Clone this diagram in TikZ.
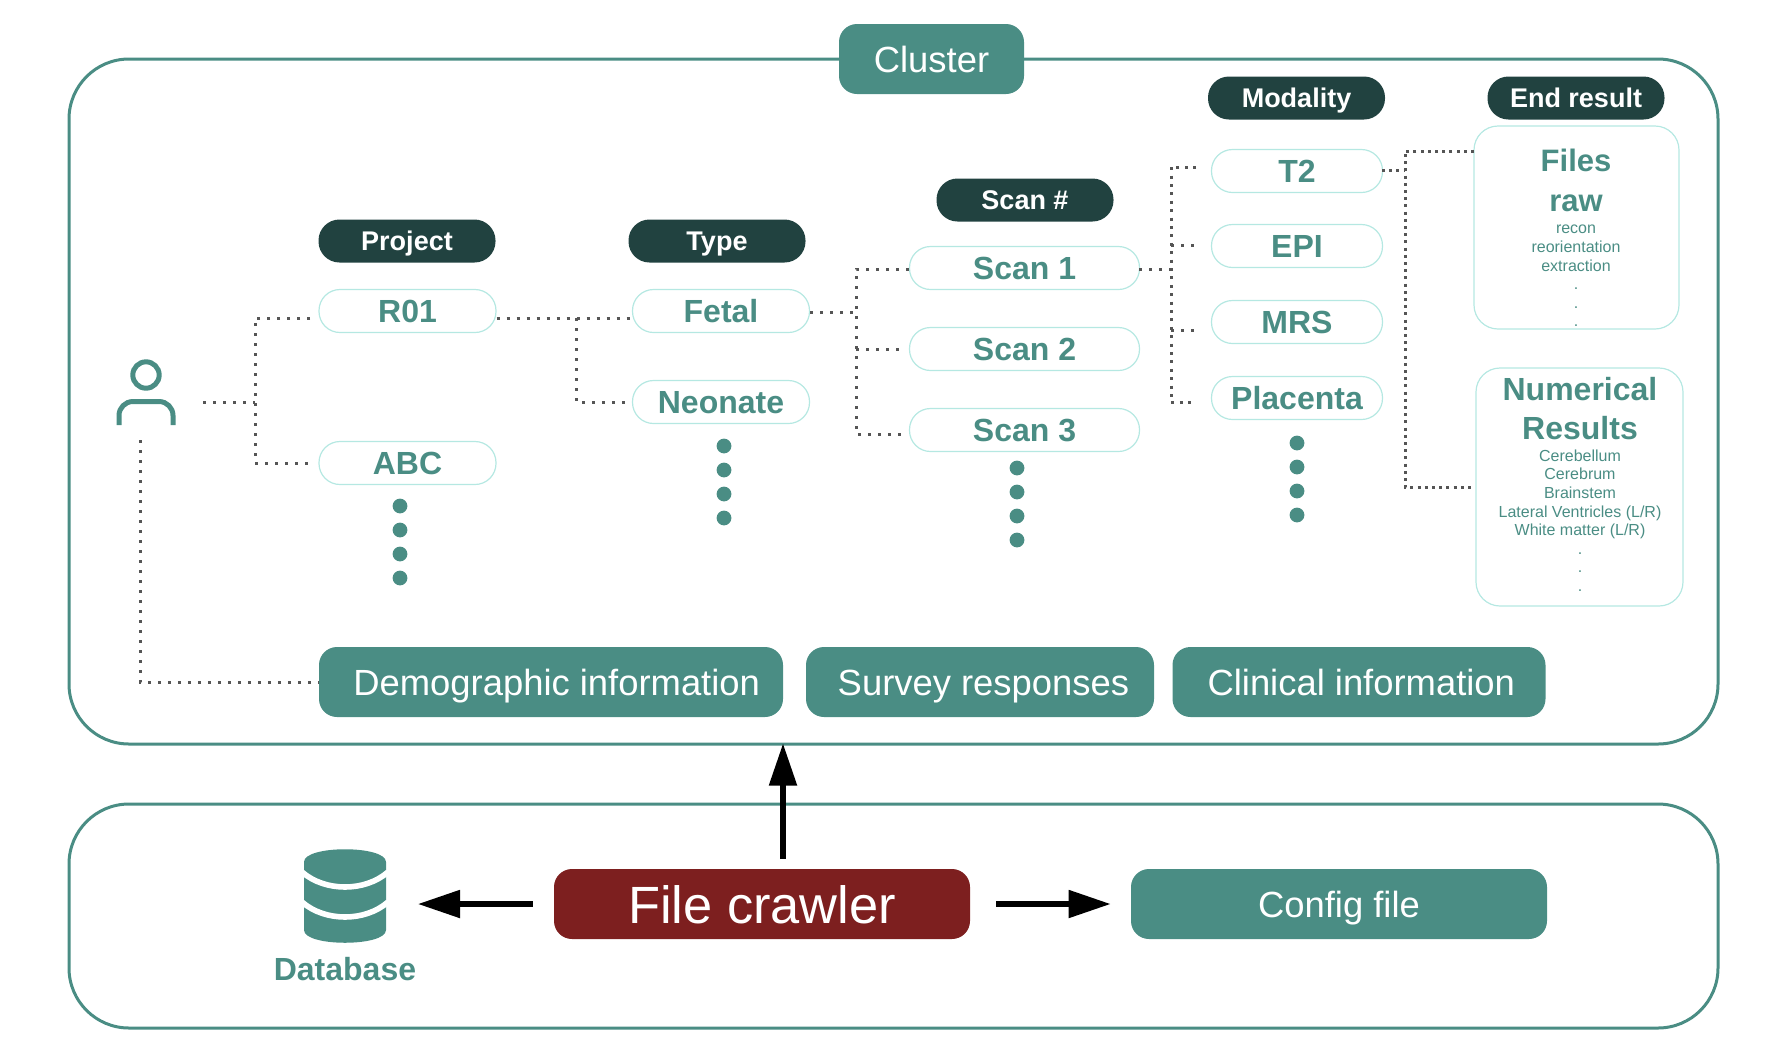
\documentclass[tikz,border=0pt]{standalone}
\usepackage{fontspec}
\setmainfont{Liberation Sans}
\usepackage{xcolor}
\usetikzlibrary{arrows.meta,calc,positioning}
\definecolor{DeepTeal}{HTML}{214240}
\definecolor{SoftTeal}{HTML}{4A8D84}
\definecolor{PaleTeal}{HTML}{B5E8E2}
\definecolor{Crawler}{HTML}{7D1F1F}
\definecolor{LinkGray}{HTML}{555555}
\tikzset{
  frame/.style={draw=SoftTeal,line width=1.5pt,rounded corners=30pt},
  tagpill/.style={fill=DeepTeal,text=white,rounded corners=10.5pt,minimum width=88.5pt,minimum height=21.5pt,inner sep=0pt,text height=9.7pt,text depth=0pt,font=\fontsize{13.5}{16}\selectfont\bfseries},
  itempill/.style={draw=PaleTeal,line width=0.6pt,fill=white,text=SoftTeal,rounded corners=10.5pt,minimum height=21.5pt,inner sep=0pt,text height=11.2pt,text depth=0pt,font=\fontsize{16}{18}\selectfont\bfseries},
  infobar/.style={fill=SoftTeal,text=white,rounded corners=9pt,minimum height=35pt,inner sep=0pt,text height=13.7pt,text depth=0pt,font=\fontsize{18.2}{21}\selectfont},
  resultbox/.style={draw=PaleTeal,line width=0.6pt,rounded corners=12pt,inner sep=0pt},
  headtext/.style={text=SoftTeal,align=center,font=\fontsize{16}{17.3}\selectfont\bfseries},
  notetext/.style={text=SoftTeal,align=center,font=\fontsize{8}{9.3}\selectfont},
  dotlink/.style={LinkGray,line width=1.5pt,dash pattern=on 1.5pt off 3.5pt},
  dotmid/.style={dotlink,dash pattern=on 1.5pt off 2.7pt},
  dotdense/.style={dotlink,dash pattern=on 1.5pt off 2.1pt},
  flowarrow/.style={-{Triangle[length=21pt,width=13.5pt]},line width=2.6pt,black},
}
\begin{document}
\begin{tikzpicture}[x=0.5pt,y=-0.5pt,>=Latex]
  \useasboundingbox (0,0) rectangle (1790,1046);
  \node[frame,minimum width=824.5pt,minimum height=342.5pt] (clusterframe) at (893.5,401.5) {};
  \node[frame,minimum width=824.5pt,minimum height=112pt] (crawlerframe) at (893.5,916) {};
  \node[infobar,minimum width=92.5pt] (cluster) at (931.5,59) {Cluster};
  \foreach \nm/\cx/\cy/\txt in {project/407/241/Project,type/717/241/Type,scannum/1025/200/Scan \#,modality/1296.5/98/Modality,endresult/1576/98/End result}{
    \node[tagpill] (\nm) at (\cx,\cy) {\txt};
  }
  \foreach \nm/\cx/\cy/\wid/\txt in {r01/407.5/311/88.5/R01,abc/407.5/463/88.5/ABC,fetal/721/311/88.5/Fetal,neonate/721/402/88.5/Neonate,scana/1024.5/268/115/Scan 1,scanb/1024.5/349/115/Scan 2,scanc/1024.5/430/115/Scan 3,tii/1297/171/85.5/T2,epi/1297/246/85.5/EPI,mrs/1297/322/85.5/MRS,placenta/1297/398/85.5/Placenta}{
    \node[itempill,minimum width=\wid pt] (\nm) at (\cx,\cy) {\txt};
  }
  \foreach \cx/\cy in {400/506,724/446,1017/468,1297/443}{
    \foreach \k in {0,...,3}{\fill[SoftTeal] (\cx,\cy+\k*24) circle (3.7pt);}
  }
  \node[resultbox,minimum width=102.5pt,minimum height=101.5pt] (filesbox) at (1576.5,227.5) {};
  \node[resultbox,minimum width=103.5pt,minimum height=119pt] (numbox) at (1579.5,487) {};
  \node[headtext,font=\fontsize{15.5}{20}\selectfont\bfseries] (filestitle) at (1576,180) {Files\\raw};
  \node[notetext] (filesnotes) at (1576,276) {recon\\reorientation\\extraction\\.\\.\\.};
  \node[headtext,font=\fontsize{16}{19.5}\selectfont\bfseries] (numtitle) at (1580,408.5) {Numerical\\Results};
  \node[notetext] (numnotes) at (1580,520.5) {Cerebellum\\Cerebrum\\Brainstem\\Lateral Ventricles (L/R)\\White matter (L/R)\\.\\.\\.};
  \node[infobar,minimum width=232pt] (demog) at (551,682) {\hspace*{5.7pt}Demographic information};
  \node[infobar,minimum width=174pt] (survey) at (980,682) {\hspace*{3.4pt}Survey responses};
  \node[infobar,minimum width=186.5pt] (clinical) at (1359,682) {\hspace*{2.3pt}Clinical information};
  \node[infobar,fill=Crawler,minimum width=208pt,text height=19.1pt,font=\fontsize{26.2}{30}\selectfont] (crawler) at (762,904) {File crawler};
  \node[infobar,minimum width=208pt] (config) at (1339,904) {Config file};
  \draw[SoftTeal,line width=2.5pt] (146,375) circle (6.6pt);
  \draw[SoftTeal,line width=2.5pt,rounded corners=7pt] (119,425)--(119,401.5)--(173,401.5)--(173,425);
  \fill[SoftTeal] (304,862) .. controls (304,845) and (386,845) .. (386,862)--(386,930) .. controls (386,947) and (304,947) .. (304,930)--cycle;
  \foreach \cy in {872,902}{
    \draw[white,line width=2.8pt] (302,\cy) .. controls (325,\cy+20) and (365,\cy+20) .. (388,\cy);
  }
  \node[headtext] (dblabel) at (345,969) {Database};
  \foreach \nm/\cx/\cy in {userout/203/402,userjoin/255/402,roa/310/318,abcgap/310/463,typejoin/576/318,fetalgap/631/318,neogap/629/402,typeout/810/312,scanjoin/856/312,sagap/909/269,sbgap/905/349,scgap/905/434,scanout/1139/269,modjoin/1171/269,tiigap/1196/167,epigap/1196/245,mrsgap/1196/330,placgap/1196/402,tiiout/1382/170,endjoin/1405/170,filesgap/1474/151,numgap/1474/487,usertop/140/440}{
    \coordinate (\nm) at (\cx,\cy);
  }
  \draw[dotlink] (userout)--(userjoin);
  \draw[dotlink] (roa)--(roa -| userjoin)--(abcgap -| userjoin)--(abcgap);
  \draw[dotlink] (r01.east |- roa)--(fetalgap);
  \draw[dotlink] (typejoin)--(neogap -| typejoin)--(neogap);
  \draw[dotlink] (typeout)--(scanjoin);
  \draw[dotlink] (sagap)--(sagap -| scanjoin)--(scgap -| scanjoin)--(scgap);
  \draw[dotlink] (sbgap -| scanjoin)--(sbgap);
  \draw[dotlink] (scanout)--(modjoin);
  \draw[dotmid] (tiigap)--(tiigap -| modjoin)--(placgap -| modjoin)--(placgap);
  \draw[dotlink] (epigap -| modjoin)--(epigap);
  \draw[dotlink] (mrsgap -| modjoin)--(mrsgap);
  \draw[dotdense] (tiiout)--(endjoin);
  \draw[dotdense] (filesgap)--(filesgap -| endjoin)--(numgap -| endjoin)--(numgap);
  \draw[dotlink] (usertop)--(usertop |- demog)--(demog.west);
  \coordinate (crawlup) at (783,859);
  \coordinate (dbgap) at (418,904);
  \draw[flowarrow,shorten >=-1pt] (crawlup)--(crawlup |- clusterframe.south);
  \draw[flowarrow,shorten <=10.5pt] (crawler.west)--(dbgap);
  \draw[flowarrow,shorten <=13pt,shorten >=10pt] (crawler.east)--(config.west);
\end{tikzpicture}
\end{document}
